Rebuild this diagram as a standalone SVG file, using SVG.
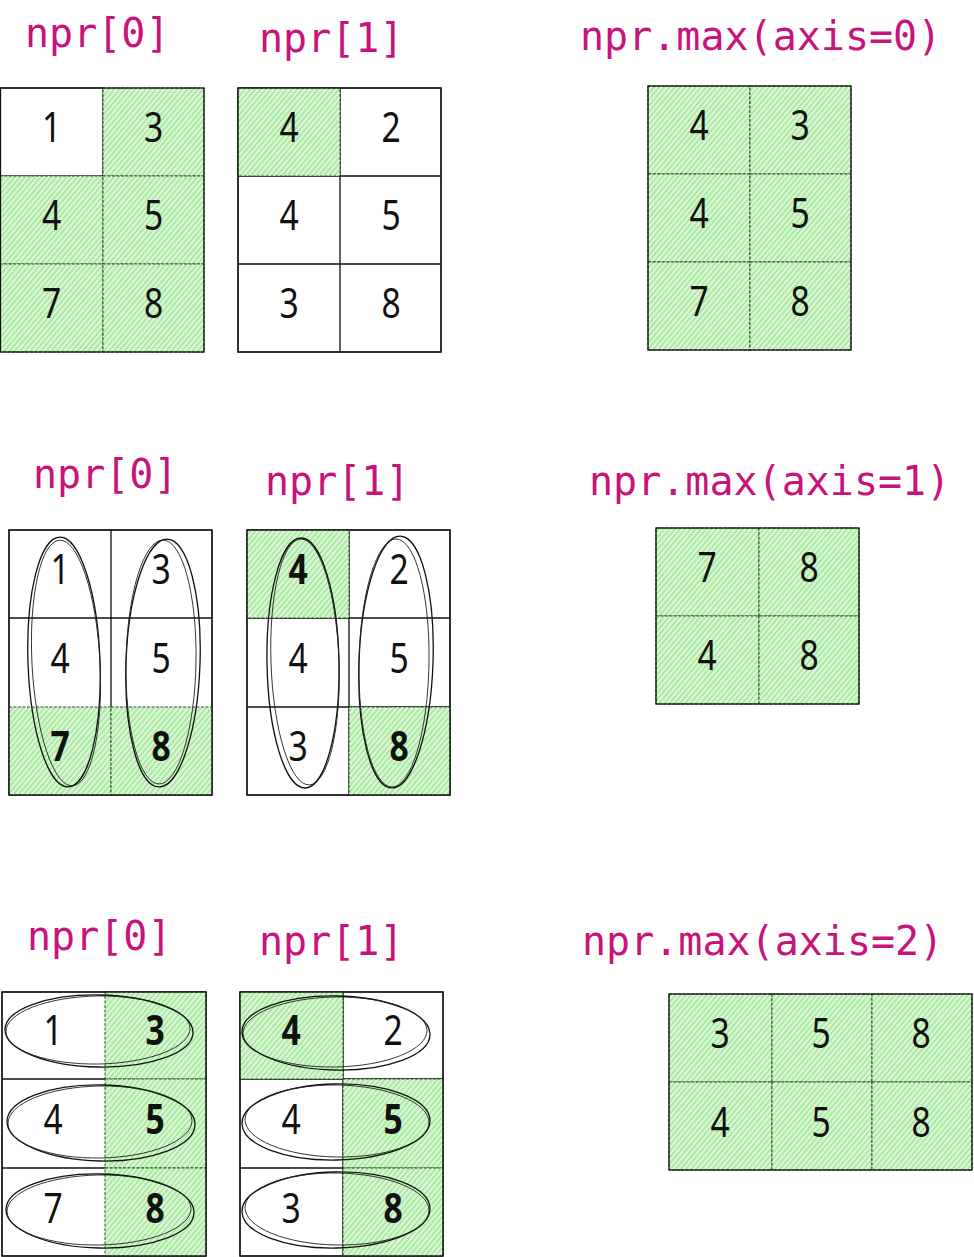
<svg xmlns="http://www.w3.org/2000/svg" width="974" height="1257" viewBox="0 0 974 1257">
<defs>
<pattern id="hatch" width="4" height="4" patternUnits="userSpaceOnUse" patternTransform="rotate(40)">
<rect width="4" height="4" fill="#dcf8d6"/>
<line x1="1" y1="0" x2="1" y2="4" stroke="#8ae282" stroke-width="1.2"/>
</pattern>
<style>
.t{font-family:"DejaVu Sans Mono","Liberation Mono",monospace;font-size:40px;fill:#c8137a}
.d{font-family:"Noto Sans","Open Sans","DejaVu Sans Condensed",sans-serif;font-size:42px;text-anchor:middle;fill:#111;transform-box:fill-box;transform-origin:center;transform:scaleX(0.8)}
.b{font-weight:bold}
.w{fill:#fff;stroke:#111;stroke-width:1.2}
.g{fill:url(#hatch);stroke:#1f3d1f;stroke-width:0.9;stroke-dasharray:3 1.5}
.o{fill:none;stroke:#111;stroke-width:1.3}
.e{fill:none;stroke:#111;stroke-width:1.3}
.e2{fill:none;stroke:#222;stroke-width:0.9}
</style>
</defs>
<rect width="974" height="1257" fill="#fff"/>

<!-- Titles -->
<g id="title-r1-a"><text class="t" x="25" y="47">npr[0]</text></g>
<g id="title-r1-b"><text class="t" x="259" y="52">npr[1]</text></g>
<g id="title-r1-c"><text class="t" x="580" y="50">npr.max(axis=0)</text></g>
<g id="title-r2-a"><text class="t" x="33" y="488">npr[0]</text></g>
<g id="title-r2-b"><text class="t" x="265" y="495">npr[1]</text></g>
<g id="title-r2-c"><text class="t" x="589" y="495">npr.max(axis=1)</text></g>
<g id="title-r3-a"><text class="t" x="27" y="950">npr[0]</text></g>
<g id="title-r3-b"><text class="t" x="259" y="955">npr[1]</text></g>
<g id="title-r3-c"><text class="t" x="582" y="955">npr.max(axis=2)</text></g>

<!-- Row 1 -->
<g id="grid-r1-a">
<rect class="w" x="0" y="88" width="103" height="88"/>
<rect class="g" x="103" y="88" width="101" height="88"/>
<rect class="g" x="0" y="176" width="103" height="88"/>
<rect class="g" x="103" y="176" width="101" height="88"/>
<rect class="g" x="0" y="264" width="103" height="88"/>
<rect class="g" x="103" y="264" width="101" height="88"/>
<rect class="o" x="0.5" y="88" width="203.5" height="264"/>
<text class="d" x="51.5" y="142">1</text><text class="d" x="153.5" y="142">3</text>
<text class="d" x="51.5" y="230">4</text><text class="d" x="153.5" y="230">5</text>
<text class="d" x="51.5" y="318">7</text><text class="d" x="153.5" y="318">8</text>
</g>
<g id="grid-r1-b">
<rect class="w" x="238" y="88" width="203" height="264"/>
<line class="o" x1="340" y1="88" x2="340" y2="352"/>
<line class="o" x1="238" y1="176" x2="441" y2="176"/>
<line class="o" x1="238" y1="264" x2="441" y2="264"/>
<rect class="g" x="238" y="88" width="102" height="88"/>
<rect class="o" x="238" y="88" width="203" height="264"/>
<text class="d" x="289" y="142">4</text><text class="d" x="391" y="142">2</text>
<text class="d" x="289" y="230">4</text><text class="d" x="391" y="230">5</text>
<text class="d" x="289" y="318">3</text><text class="d" x="391" y="318">8</text>
</g>
<g id="grid-r1-c">
<rect class="g" x="648" y="86" width="102" height="88"/>
<rect class="g" x="750" y="86" width="101" height="88"/>
<rect class="g" x="648" y="174" width="102" height="88"/>
<rect class="g" x="750" y="174" width="101" height="88"/>
<rect class="g" x="648" y="262" width="102" height="88"/>
<rect class="g" x="750" y="262" width="101" height="88"/>
<rect class="o" x="648" y="86" width="203" height="264" stroke-width="0.8"/>
<text class="d" x="699" y="140">4</text><text class="d" x="800" y="140">3</text>
<text class="d" x="699" y="228">4</text><text class="d" x="800" y="228">5</text>
<text class="d" x="699" y="316">7</text><text class="d" x="800" y="316">8</text>
</g>

<!-- Row 2 -->
<g id="grid-r2-a">
<rect class="w" x="9" y="530" width="203" height="265"/>
<line class="o" x1="111" y1="530" x2="111" y2="795"/>
<line class="o" x1="9" y1="618" x2="212" y2="618"/>
<rect class="g" x="9" y="707" width="102" height="88"/>
<rect class="g" x="111" y="707" width="101" height="88"/>
<rect class="o" x="9" y="530" width="203" height="265"/>
<text class="d" x="60" y="584">1</text><text class="d" x="161" y="584">3</text>
<text class="d" x="60" y="673">4</text><text class="d" x="161" y="673">5</text>
<text class="d b" x="60" y="761">7</text><text class="d b" x="161" y="761">8</text>
</g>
<g id="grid-r2-b">
<rect class="w" x="247" y="530" width="203" height="265"/>
<line class="o" x1="349" y1="530" x2="349" y2="795"/>
<line class="o" x1="247" y1="618" x2="450" y2="618"/>
<line class="o" x1="247" y1="707" x2="450" y2="707"/>
<rect class="g" x="247" y="530" width="102" height="88"/>
<rect class="g" x="349" y="707" width="101" height="88"/>
<rect class="o" x="247" y="530" width="203" height="265"/>
<text class="d b" x="298" y="584">4</text><text class="d" x="399" y="584">2</text>
<text class="d" x="298" y="673">4</text><text class="d" x="399" y="673">5</text>
<text class="d" x="298" y="761">3</text><text class="d b" x="399" y="761">8</text>
</g>
<g id="grid-r2-c">
<rect class="g" x="656" y="528" width="103" height="88"/>
<rect class="g" x="759" y="528" width="100" height="88"/>
<rect class="g" x="656" y="616" width="103" height="88"/>
<rect class="g" x="759" y="616" width="100" height="88"/>
<rect class="o" x="656" y="528" width="203" height="176" stroke-width="0.8"/>
<text class="d" x="707" y="582">7</text><text class="d" x="809" y="582">8</text>
<text class="d" x="707" y="670">4</text><text class="d" x="809" y="670">8</text>
</g>

<!-- Row 3 -->
<g id="grid-r3-a">
<rect class="w" x="2" y="992" width="204" height="264"/>
<line class="o" x1="2" y1="1079" x2="206" y2="1079"/>
<line class="o" x1="2" y1="1168" x2="206" y2="1168"/>
<rect class="g" x="105" y="992" width="101" height="87"/>
<rect class="g" x="105" y="1079" width="101" height="89"/>
<rect class="g" x="105" y="1168" width="101" height="88"/>
<rect class="o" x="2" y="992" width="204" height="264"/>
<text class="d" x="53" y="1045">1</text><text class="d b" x="155" y="1045">3</text>
<text class="d" x="53" y="1134">4</text><text class="d b" x="155" y="1134">5</text>
<text class="d" x="53" y="1223">7</text><text class="d b" x="155" y="1223">8</text>
</g>
<g id="grid-r3-b">
<rect class="w" x="240" y="992" width="203" height="264"/>
<line class="o" x1="343" y1="992" x2="343" y2="1256"/>
<line class="o" x1="240" y1="1079" x2="443" y2="1079"/>
<line class="o" x1="240" y1="1168" x2="443" y2="1168"/>
<rect class="g" x="240" y="992" width="103" height="87"/>
<rect class="g" x="343" y="1079" width="100" height="89"/>
<rect class="g" x="343" y="1168" width="100" height="88"/>
<rect class="o" x="240" y="992" width="203" height="264"/>
<text class="d b" x="291" y="1045">4</text><text class="d" x="393" y="1045">2</text>
<text class="d" x="291" y="1134">4</text><text class="d b" x="393" y="1134">5</text>
<text class="d" x="291" y="1223">3</text><text class="d b" x="393" y="1223">8</text>
</g>
<g id="grid-r3-c">
<rect class="g" x="669" y="994" width="103" height="88"/>
<rect class="g" x="772" y="994" width="100" height="88"/>
<rect class="g" x="872" y="994" width="100" height="88"/>
<rect class="g" x="669" y="1082" width="103" height="88"/>
<rect class="g" x="772" y="1082" width="100" height="88"/>
<rect class="g" x="872" y="1082" width="100" height="88"/>
<rect class="o" x="669" y="994" width="303" height="176" stroke-width="0.8"/>
<text class="d" x="720" y="1048">3</text><text class="d" x="821" y="1048">5</text><text class="d" x="921" y="1048">8</text>
<text class="d" x="720" y="1137">4</text><text class="d" x="821" y="1137">5</text><text class="d" x="921" y="1137">8</text>
</g>

<!-- Highlight ellipses -->
<g id="connectors">
<ellipse class="e" cx="64" cy="662" rx="36" ry="125" transform="rotate(-2 64 662)"/>
<ellipse class="e2" cx="66" cy="663" rx="34" ry="123" transform="rotate(-3 66 663)"/>
<ellipse class="e" cx="163" cy="663" rx="37" ry="124" transform="rotate(2 163 663)"/>
<ellipse class="e2" cx="161" cy="662" rx="35" ry="122" transform="rotate(1 161 662)"/>
<ellipse class="e" cx="303" cy="663" rx="36" ry="125" transform="rotate(-1 303 663)"/>
<ellipse class="e2" cx="305" cy="662" rx="34" ry="123" transform="rotate(-2 305 662)"/>
<ellipse class="e" cx="396" cy="662" rx="37" ry="126" transform="rotate(2 396 662)"/>
<ellipse class="e2" cx="394" cy="663" rx="35" ry="124" transform="rotate(1 394 663)"/>

<ellipse class="e" cx="99" cy="1031" rx="94" ry="36" transform="rotate(1 99 1031)"/>
<ellipse class="e2" cx="98" cy="1030" rx="92" ry="34" transform="rotate(-1 98 1030)"/>
<ellipse class="e" cx="101" cy="1123" rx="94" ry="38" transform="rotate(1 101 1123)"/>
<ellipse class="e2" cx="100" cy="1122" rx="92" ry="36" transform="rotate(-1 100 1122)"/>
<ellipse class="e" cx="100" cy="1211" rx="94" ry="37" transform="rotate(1 100 1211)"/>
<ellipse class="e2" cx="99" cy="1210" rx="92" ry="35" transform="rotate(-1 99 1210)"/>

<ellipse class="e" cx="336" cy="1033" rx="94" ry="37" transform="rotate(1 336 1033)"/>
<ellipse class="e2" cx="335" cy="1032" rx="92" ry="35" transform="rotate(-1 335 1032)"/>
<ellipse class="e" cx="336" cy="1122" rx="94" ry="38" transform="rotate(-1 336 1122)"/>
<ellipse class="e2" cx="337" cy="1121" rx="92" ry="36" transform="rotate(1 337 1121)"/>
<ellipse class="e" cx="336" cy="1210" rx="94" ry="38" transform="rotate(-1 336 1210)"/>
<ellipse class="e2" cx="337" cy="1209" rx="92" ry="36" transform="rotate(1 337 1209)"/>
</g>
</svg>
